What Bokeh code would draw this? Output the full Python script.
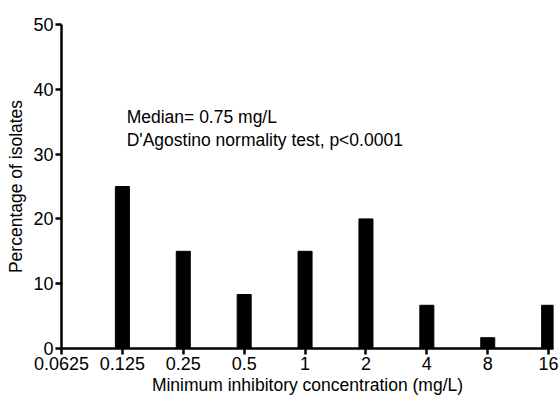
from bokeh.plotting import figure
from bokeh.models import FixedTicker, Range1d, Label
from bokeh.embed import file_html
from bokeh.resources import INLINE

mic_labels = ["0.0625", "0.125", "0.25", "0.5", "1", "2", "4", "8", "16"]
bar_labels = ["0.125", "0.25", "0.5", "1", "2", "4", "8", "16"]
percentages = [25.0, 15.0, 8.33, 15.0, 20.0, 6.67, 1.67, 6.67]
y_ticks = [0, 10, 20, 30, 40, 50]
annotation_lines = ["Median= 0.75 mg/L", "D'Agostino normality test, p<0.0001"]

FONT = "Liberation Sans"

p = figure(width=559, height=397, output_backend="svg", toolbar_location=None,
           x_range=Range1d(0, 8.08), y_range=Range1d(0, 50),
           min_border_left=61, min_border_right=6, min_border_top=24, min_border_bottom=48)
p.outline_line_color = None
p.xgrid.grid_line_color = None
p.ygrid.grid_line_color = None
p.background_fill_color = "white"
p.border_fill_color = "white"

pos = {lab: i for i, lab in enumerate(mic_labels)}
xs = [pos[l] for l in bar_labels]
p.vbar(x=xs, top=percentages, width=0.23, bottom=0, color="black")

p.xaxis.ticker = FixedTicker(ticks=list(range(len(mic_labels))))
p.xaxis.major_label_overrides = {i: l for i, l in enumerate(mic_labels)}
p.yaxis.ticker = FixedTicker(ticks=y_ticks)

for ax in (p.xaxis[0], p.yaxis[0]):
    ax.axis_line_width = 2.5
    ax.axis_line_color = "black"
    ax.major_tick_line_width = 2.5
    ax.major_tick_line_color = "black"
    ax.major_tick_out = 6
    ax.major_tick_in = 0
    ax.minor_tick_line_color = None
    ax.major_label_text_font = FONT
    ax.major_label_text_font_size = "18px"
    ax.major_label_text_color = "black"
    ax.axis_label_text_font = FONT
    ax.axis_label_text_font_size = "17.5px"
    ax.axis_label_text_font_style = "normal"
    ax.axis_label_text_color = "black"

p.xaxis.axis_label = "Minimum inhibitory concentration (mg/L)"
p.yaxis.axis_label = "Percentage of isolates"
p.xaxis.major_label_standoff = 2
p.xaxis.axis_label_standoff = 2
p.yaxis.major_label_standoff = 2
p.yaxis.axis_label_standoff = 4

p.add_layout(Label(x=1.07, y=35.7, text=annotation_lines[0], text_font=FONT,
                   text_font_size="17.5px", text_baseline="middle", text_color="black"))
p.add_layout(Label(x=1.07, y=32.2, text=annotation_lines[1], text_font=FONT,
                   text_font_size="17.5px", text_baseline="middle", text_color="black"))

open("out.html", "w").write(file_html(p, INLINE))
